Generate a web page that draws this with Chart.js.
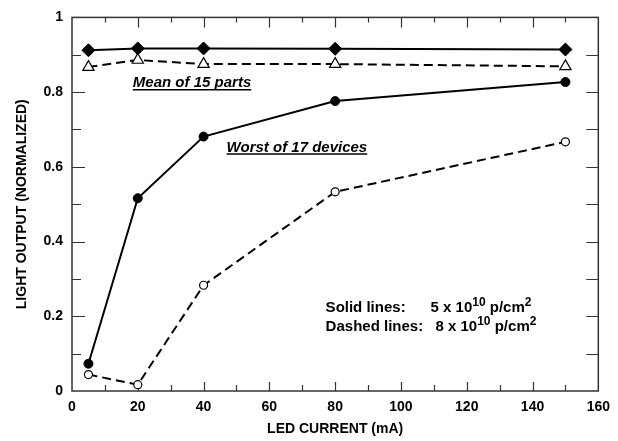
<!DOCTYPE html>
<html>
<head>
<meta charset="utf-8">
<script src="https://cdn.jsdelivr.net/npm/chart.js@4/dist/chart.umd.min.js"></script>
<style>
html,body{margin:0;padding:0;background:#fff;}
#wrap{width:618px;height:441px;position:relative;}
</style>
</head>
<body>
<div id="wrap"><canvas id="c" width="618" height="441"></canvas></div>
<script>
// ---- data ----
const currents = [5, 20, 40, 80, 150];
const meanSolid = [0.912, 0.917, 0.917, 0.916, 0.914];
const meanDashed = [0.867, 0.886, 0.875, 0.875, 0.869];
const worstSolid = [0.073, 0.516, 0.681, 0.776, 0.827];
const worstDashed = [0.044, 0.017, 0.283, 0.533, 0.667];
const xTicks = [0, 20, 40, 60, 80, 100, 120, 140, 160];
const yTicks = [0, 0.2, 0.4, 0.6, 0.8, 1];
const xTitle = 'LED CURRENT (mA)';
const yTitle = 'LIGHT OUTPUT (NORMALIZED)';
const noteMean = 'Mean of 15 parts';
const noteWorst = 'Worst of 17 devices';
const legendSolidLabel = 'Solid lines:';
const legendDashedLabel = 'Dashed lines:';
const legendSolidDose = '5';
const legendDashedDose = '8';

const pts = arr => currents.map((x, i) => ({x: x, y: arr[i]}));

const FONT = 'Liberation Sans, Arial, sans-serif';

const framePlugin = {
  id: 'frame',
  beforeDatasetsDraw(chart) {
    const {ctx, chartArea: a, scales: {x, y}} = chart;
    ctx.save();
    ctx.strokeStyle = '#333';
    ctx.lineWidth = 1.5;
    ctx.strokeRect(a.left, a.top, a.right - a.left, a.bottom - a.top);
    ctx.lineWidth = 1.2;
    ctx.beginPath();
    for (let v = 10; v < 160; v += 10) {
      const px = Math.round(x.getPixelForValue(v)) + 0.5;
      const major = v % 20 === 0;
      ctx.moveTo(px, a.bottom); ctx.lineTo(px, a.bottom - (major ? 9 : 6));
      ctx.moveTo(px, a.top); ctx.lineTo(px, a.top + (major ? 10 : 5));
    }
    for (let k = 1; k < 10; k++) {
      const v = k / 10;
      const py = Math.round(y.getPixelForValue(v)) + 0.5;
      const major = k % 2 === 0;
      ctx.moveTo(a.left, py); ctx.lineTo(a.left + (major ? 13 : 9), py);
      ctx.moveTo(a.right, py); ctx.lineTo(a.right - 12, py);
    }
    ctx.stroke();
    ctx.restore();
  },
  afterDraw(chart) {
    const {ctx, scales: {x, y}} = chart;
    ctx.save();
    ctx.fillStyle = '#000';
    ctx.strokeStyle = '#000';
    ctx.textBaseline = 'alphabetic';
    ctx.textAlign = 'left';
    const note = (text, xv, yv) => {
      ctx.font = 'italic bold 15px ' + FONT;
      const px = x.getPixelForValue(xv), py = y.getPixelForValue(yv);
      ctx.fillText(text, px, py);
      const w = ctx.measureText(text).width;
      ctx.lineWidth = 1.5;
      ctx.beginPath();
      ctx.moveTo(px, py + 2.5); ctx.lineTo(px + w, py + 2.5);
      ctx.stroke();
    };
    note(noteMean, 18.5, 0.813);
    note(noteWorst, 47, 0.641);
    const legendLine = (label, dose, xv, xv2, yv) => {
      let px = x.getPixelForValue(xv);
      const py = y.getPixelForValue(yv);
      ctx.font = 'bold 15px ' + FONT;
      ctx.fillText(label, px, py);
      px = x.getPixelForValue(xv2);
      const seg = (t, sup) => {
        ctx.font = (sup ? 'bold 12px ' : 'bold 15px ') + FONT;
        ctx.fillText(t, px, sup ? py - 6 : py);
        px += ctx.measureText(t).width;
      };
      seg(dose + ' x 10', false);
      seg('10', true);
      seg(' p/cm', false);
      seg('2', true);
    };
    legendLine(legendSolidLabel, legendSolidDose, 77.1, 109, 0.211);
    legendLine(legendDashedLabel, legendDashedDose, 77.1, 110.5, 0.161);
    ctx.restore();
  }
};

new Chart(document.getElementById('c'), {
  type: 'scatter',
  data: {
    datasets: [
      {data: pts(meanSolid), showLine: true, borderColor: '#000', borderWidth: 2,
       pointStyle: 'rectRot', pointRadius: 6.5, pointBackgroundColor: '#000', pointBorderColor: '#000', pointBorderWidth: 1},
      {data: pts(meanDashed), showLine: true, borderColor: '#000', borderWidth: 2, borderDash: [9, 5],
       pointStyle: 'triangle', pointRadius: 6.5, pointBackgroundColor: '#fff', pointBorderColor: '#000', pointBorderWidth: 1.2},
      {data: pts(worstSolid), showLine: true, borderColor: '#000', borderWidth: 2,
       pointStyle: 'circle', pointRadius: 4.5, pointBackgroundColor: '#000', pointBorderColor: '#000', pointBorderWidth: 1},
      {data: pts(worstDashed), showLine: true, borderColor: '#000', borderWidth: 2, borderDash: [9, 5],
       pointStyle: 'circle', pointRadius: 4, pointBackgroundColor: '#fff', pointBorderColor: '#000', pointBorderWidth: 1.2}
    ]
  },
  options: {
    responsive: false,
    animation: false,
    devicePixelRatio: 1,
    layout: {padding: {top: 11, right: 17, left: 0, bottom: 0}},
    plugins: {legend: {display: false}, tooltip: {enabled: false}},
    scales: {
      x: {
        type: 'linear', min: 0, max: 160,
        afterBuildTicks: s => { s.ticks = xTicks.map(v => ({value: v})); },
        afterFit: s => { s.height = 50; },
        grid: {display: false, drawTicks: false},
        border: {display: false},
        ticks: {color: '#000', padding: 8, font: {family: FONT, size: 14, weight: 'bold'}, maxRotation: 0},
        title: {display: true, text: xTitle, color: '#000', padding: {top: 0, bottom: 3.6},
                font: {family: FONT, size: 14, weight: 'bold'}}
      },
      y: {
        type: 'linear', min: 0, max: 1,
        afterBuildTicks: s => { s.ticks = yTicks.map(v => ({value: v})); },
        afterFit: s => { s.width = 72; },
        grid: {display: false, drawTicks: false},
        border: {display: false},
        ticks: {color: '#000', padding: 9, font: {family: FONT, size: 14, weight: 'bold'},
                callback: v => String(Math.round(v * 10) / 10)},
        title: {display: true, text: yTitle, color: '#000', padding: {top: 13.6, bottom: 0},
                font: {family: FONT, size: 14, weight: 'bold'}}
      }
    }
  },
  plugins: [framePlugin]
});
</script>
</body>
</html>
